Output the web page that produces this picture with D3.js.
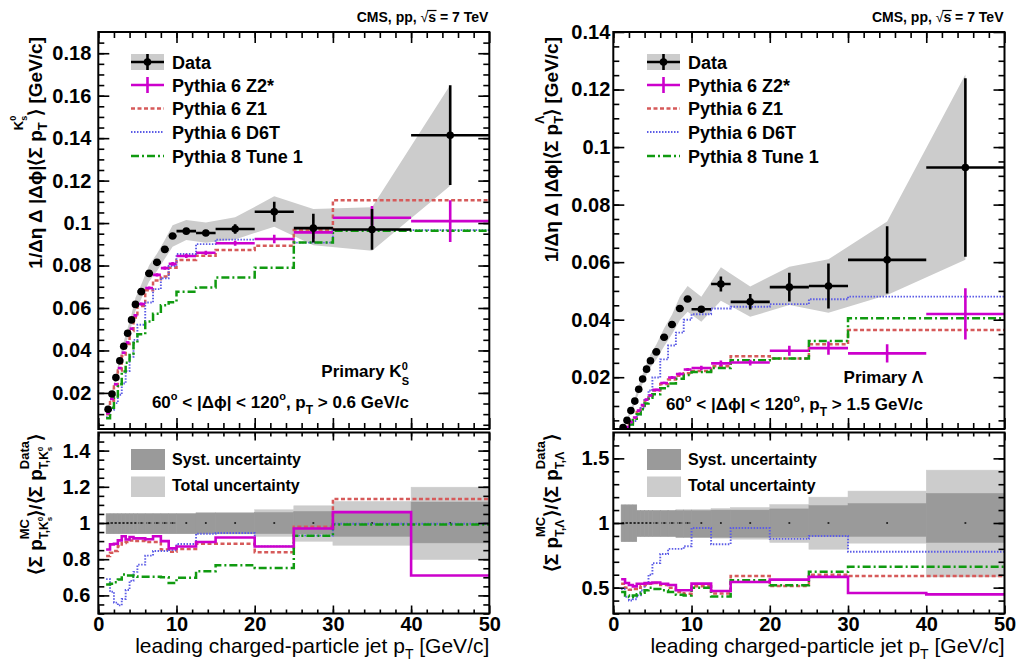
<!DOCTYPE html>
<html><head><meta charset="utf-8">
<script src="https://cdn.jsdelivr.net/npm/d3@7"></script>
<style>
body{margin:0;background:#fff}
svg{display:block}
text{font-family:"Liberation Sans",Arial,Helvetica,sans-serif;white-space:pre}
</style>
</head><body>
<svg id="c" width="1019" height="664"></svg>
<script>
// ---------------- DATA ----------------
const binEdges = [1,1.5,2,2.5,3,3.5,4,4.5,5,6,7,8,9,10,12.5,15,20,25,30,40,50];

// K0S panel (left)
const kData    = [0.0123,0.0195,0.0272,0.0351,0.0420,0.0481,0.0544,0.0617,0.0677,0.0763,0.0815,0.0876,0.0939,0.0962,0.0953,0.0972,0.1053,0.0976,0.0970,0.1414];
const kDataErr = [0.0002,0.0002,0.0003,0.0003,0.0003,0.0003,0.0004,0.0004,0.0004,0.0005,0.0005,0.0005,0.0006,0.0008,0.0008,0.0022,0.0047,0.0068,0.0096,0.0235];
const kBandLo  = [0.0113,0.0183,0.0257,0.0333,0.0399,0.0457,0.0517,0.0586,0.0643,0.0725,0.0774,0.0832,0.0888,0.0920,0.0907,0.0923,0.0983,0.0896,0.0870,0.1176];
const kBandHi  = [0.0133,0.0207,0.0287,0.0369,0.0441,0.0505,0.0571,0.0648,0.0711,0.0801,0.0856,0.0920,0.0990,0.1014,0.1003,0.1027,0.1126,0.1066,0.1074,0.1650];
const kZ2      = [0.0105,0.0172,0.0241,0.0317,0.0389,0.0437,0.0502,0.0565,0.0619,0.0694,0.0756,0.0788,0.0808,0.0845,0.0860,0.0905,0.0925,0.0956,0.1025,0.1009];
const kZ2Err   = [0.0004,0.0004,0.0005,0.0005,0.0005,0.0006,0.0006,0.0006,0.0007,0.0007,0.0008,0.0008,0.0009,0.0010,0.0010,0.0012,0.0020,0.0030,0.0055,0.0098];
const kZ1      = [0.0100,0.0163,0.0230,0.0306,0.0374,0.0430,0.0492,0.0555,0.0609,0.0683,0.0729,0.0748,0.0790,0.0826,0.0846,0.0873,0.0893,0.0967,0.1108,0.1108];
const kD6T     = [0.0085,0.0121,0.0152,0.0191,0.0244,0.0303,0.0370,0.0450,0.0521,0.0626,0.0689,0.0740,0.0798,0.0854,0.0901,0.0922,0.0925,0.0908,0.0967,0.0967];
const kP8      = [0.0081,0.0130,0.0183,0.0241,0.0301,0.0342,0.0386,0.0435,0.0476,0.0536,0.0573,0.0613,0.0627,0.0677,0.0697,0.0744,0.0790,0.0908,0.0964,0.0964];
const kRZ2     = [0.854,0.882,0.885,0.904,0.927,0.909,0.923,0.915,0.915,0.910,0.927,0.900,0.860,0.870,0.895,0.920,0.870,0.970,1.060,0.710];
const kRZ1     = [0.817,0.835,0.845,0.872,0.890,0.895,0.904,0.900,0.900,0.895,0.895,0.854,0.841,0.856,0.885,0.885,0.839,0.979,1.133,1.133];
const kRD6T    = [0.690,0.620,0.560,0.545,0.580,0.630,0.680,0.730,0.770,0.820,0.845,0.845,0.850,0.884,0.941,0.945,0.871,0.930,0.996,0.996];
const kRP8     = [0.660,0.665,0.673,0.688,0.716,0.710,0.710,0.705,0.703,0.703,0.703,0.700,0.668,0.697,0.734,0.767,0.752,0.930,0.992,0.992];
const kSystLo  = [0.941,0.941,0.941,0.941,0.941,0.941,0.941,0.941,0.941,0.941,0.941,0.941,0.941,0.941,0.941,0.941,0.941,0.939,0.926,0.890];
const kSystHi  = [1.051,1.051,1.051,1.051,1.051,1.051,1.051,1.051,1.051,1.051,1.051,1.051,1.051,1.051,1.055,1.055,1.058,1.064,1.064,1.116];
const kTotLo   = [0.941,0.941,0.941,0.941,0.941,0.941,0.941,0.941,0.941,0.941,0.941,0.941,0.941,0.941,0.940,0.940,0.926,0.899,0.877,0.798];
const kTotHi   = [1.051,1.051,1.051,1.051,1.051,1.051,1.051,1.051,1.051,1.051,1.051,1.051,1.051,1.051,1.058,1.058,1.073,1.095,1.119,1.198];

// Lambda panel (right)
const lData    = [0.0025,0.0050,0.0084,0.0117,0.0158,0.0194,0.0228,0.0257,0.0288,0.0339,0.0383,0.0439,0.0472,0.0436,0.0524,0.0462,0.0513,0.0517,0.0608,0.0929];
const lDataErr = [0.0001,0.0001,0.0002,0.0002,0.0002,0.0003,0.0003,0.0003,0.0004,0.0004,0.0005,0.0005,0.0006,0.0010,0.0026,0.0027,0.0050,0.0078,0.0117,0.0310];
const lBandLo  = [0.0021,0.0045,0.0076,0.0106,0.0144,0.0177,0.0208,0.0234,0.0262,0.0308,0.0349,0.0398,0.0428,0.0393,0.0466,0.0410,0.0451,0.0424,0.0486,0.0608];
const lBandHi  = [0.0029,0.0055,0.0092,0.0128,0.0172,0.0211,0.0248,0.0280,0.0314,0.0370,0.0417,0.0480,0.0517,0.0480,0.0582,0.0515,0.0584,0.0610,0.0741,0.1252];
const lZ2      = [0.0014,0.0027,0.0044,0.0060,0.0084,0.0103,0.0122,0.0137,0.0156,0.0180,0.0199,0.0211,0.0227,0.0232,0.0248,0.0251,0.0292,0.0301,0.0283,0.0420];
const lZ2Err   = [0.0002,0.0002,0.0002,0.0003,0.0003,0.0003,0.0003,0.0004,0.0004,0.0004,0.0005,0.0005,0.0005,0.0008,0.0010,0.0010,0.0017,0.0023,0.0032,0.0089];
const lZ1      = [0.0013,0.0025,0.0041,0.0057,0.0079,0.0100,0.0119,0.0136,0.0154,0.0176,0.0192,0.0205,0.0214,0.0222,0.0238,0.0273,0.0265,0.0315,0.0364,0.0364];
const lD6T     = [0.0012,0.0022,0.0034,0.0048,0.0070,0.0093,0.0121,0.0154,0.0199,0.0262,0.0310,0.0355,0.0400,0.0419,0.0439,0.0445,0.0454,0.0471,0.0480,0.0480];
const lP8      = [0.0012,0.0022,0.0036,0.0051,0.0071,0.0089,0.0109,0.0129,0.0141,0.0162,0.0178,0.0195,0.0208,0.0218,0.0232,0.0259,0.0265,0.0326,0.0405,0.0405];
const lRZ2     = [0.565,0.536,0.520,0.510,0.530,0.530,0.535,0.535,0.540,0.530,0.520,0.480,0.480,0.531,0.474,0.544,0.562,0.583,0.458,0.448];
const lRZ1     = [0.531,0.500,0.484,0.490,0.500,0.515,0.520,0.530,0.536,0.520,0.500,0.466,0.453,0.510,0.455,0.590,0.513,0.600,0.590,0.590];
const lRD6T    = [0.490,0.430,0.400,0.410,0.440,0.480,0.530,0.600,0.690,0.760,0.800,0.800,0.820,0.961,0.836,0.961,0.877,0.900,0.778,0.778];
const lRP8     = [0.466,0.440,0.427,0.440,0.448,0.460,0.479,0.500,0.490,0.479,0.466,0.445,0.440,0.500,0.432,0.557,0.518,0.622,0.661,0.661];
const lSystLo  = [0.856,0.856,0.856,0.856,0.896,0.896,0.896,0.896,0.896,0.896,0.896,0.890,0.890,0.890,0.890,0.890,0.890,0.896,0.896,0.849];
const lSystHi  = [1.140,1.140,1.140,1.140,1.096,1.096,1.096,1.096,1.096,1.096,1.096,1.096,1.096,1.096,1.100,1.100,1.109,1.135,1.151,1.229];
const lTotLo   = [0.856,0.856,0.856,0.856,0.896,0.896,0.896,0.896,0.896,0.896,0.896,0.890,0.890,0.890,0.883,0.875,0.849,0.797,0.844,0.583];
const lTotHi   = [1.140,1.140,1.140,1.140,1.096,1.096,1.096,1.096,1.096,1.096,1.096,1.104,1.104,1.104,1.112,1.120,1.143,1.200,1.247,1.409];

// tick labels
const xTickVals   = [0,10,20,30,40,50];
const xTickLabels = ["0","10","20","30","40","50"];
const kTopTickVals   = [0.02,0.04,0.06,0.08,0.10,0.12,0.14,0.16,0.18];
const kTopTickLabels = ["0.02","0.04","0.06","0.08","0.1","0.12","0.14","0.16","0.18"];
const lTopTickVals   = [0.02,0.04,0.06,0.08,0.10,0.12,0.14];
const lTopTickLabels = ["0.02","0.04","0.06","0.08","0.1","0.12","0.14"];
const kBotTickVals   = [0.6,0.8,1.0,1.2,1.4];
const kBotTickLabels = ["0.6","0.8","1","1.2","1.4"];
const lBotTickVals   = [0.5,1.0,1.5];
const lBotTickLabels = ["0.5","1","1.5"];
const legendLabels = ["Data","Pythia 6 Z2*","Pythia 6 Z1","Pythia 6 D6T","Pythia 8 Tune 1"];
const ratioLegendLabels = ["Syst. uncertainty","Total uncertainty"];

// ---------------- STYLE / LAYOUT ----------------
const TOP_Y0 = 32, TOP_Y1 = 429, BOT_Y0 = 432.5, BOT_Y1 = 613.5;
const PHI = '\u03D5';
const C = {z2:'#cc00cc', z1:'#d65a5a', d6t:'#5c5ce6', p8:'#109a10', band:'#cccccc', syst:'#9a9a9a'};
const ST = {
  z1:{stroke:C.z1, w:2.5, dash:'4,2.5'},
  d6t:{stroke:C.d6t, w:1.9, dash:'1.5,1.5'},
  p8:{stroke:C.p8, w:2.5, dash:'8,3,2,3'},
  z2:{stroke:C.z2, w:2.6, dash:null}
};

const svg = d3.select('#c');
const defs = svg.append('defs');

function rich(parent, transform, pieces, anchor) {
  const g = parent.append('g').attr('transform', transform);
  const inner = g.append('g');
  let cursor = 0; const marks = {}; const items = [];
  pieces.forEach(p => {
    const x = (p.at !== undefined) ? marks[p.at] : cursor;
    if (p.mark) marks[p.mark] = x;
    const t = inner.append('text').attr('x', x).attr('y', p.dy || 0)
      .attr('font-size', p.fs).attr('font-weight', p.w || 'bold')
      .attr('fill', '#000').text(p.t);
    const w = t.node().getComputedTextLength();
    items.push({x, w, p});
    cursor = Math.max(cursor, x + w);
  });
  let off = 0;
  if (anchor === 'end') off = -cursor; else if (anchor === 'middle') off = -cursor / 2;
  inner.attr('transform', `translate(${off},0)`);
  return {inner, items};
}

function stepPath(x, y, vals) {
  let d = '';
  vals.forEach((v, i) => {
    const xa = x(binEdges[i]), xb = x(binEdges[i + 1]), yy = y(v);
    d += (i === 0 ? `M${xa},${yy}` : `V${yy}`) + `H${xb}`;
  });
  return d;
}
function styled(sel, s) {
  sel.attr('fill', 'none').attr('stroke', s.stroke).attr('stroke-width', s.w);
  if (s.dash) sel.attr('stroke-dasharray', s.dash);
  return sel;
}

function axes(g, x, y, y0, y1, yMaj, yLab, yMin, xMin, opts) {
  const x0 = x.range()[0], x1 = x.range()[1];
  const aL = g.append('g').attr('transform', `translate(${x0},0)`)
    .call(d3.axisLeft(y).tickValues(yMaj).tickSize(-opts.yMaj).tickPadding(opts.yPad).tickFormat((d, i) => yLab[i]));
  aL.select('.domain').remove();
  aL.selectAll('text').attr('font-size', 20).attr('font-weight', 'bold').attr('fill', '#000')
    .style('font-family', '"Liberation Sans",Arial,sans-serif');
  const aLm = g.append('g').attr('transform', `translate(${x0},0)`)
    .call(d3.axisLeft(y).tickValues(yMin).tickSize(-opts.yMin).tickFormat(''));
  aLm.select('.domain').remove();
  const aR = g.append('g').attr('transform', `translate(${x1},0)`)
    .call(d3.axisRight(y).tickValues(yMaj).tickSize(-opts.yMaj).tickFormat(''));
  aR.select('.domain').remove();
  const aRm = g.append('g').attr('transform', `translate(${x1},0)`)
    .call(d3.axisRight(y).tickValues(yMin).tickSize(-opts.yMin).tickFormat(''));
  aRm.select('.domain').remove();
  const aB = g.append('g').attr('transform', `translate(0,${y1})`)
    .call(d3.axisBottom(x).tickValues(xTickVals).tickSize(-opts.xMaj).tickPadding(3)
      .tickFormat((d, i) => opts.xLabels ? xTickLabels[i] : ''));
  aB.select('.domain').remove();
  aB.selectAll('text').attr('font-size', 20).attr('font-weight', 'bold').attr('fill', '#000')
    .style('font-family', '"Liberation Sans",Arial,sans-serif');
  const aBm = g.append('g').attr('transform', `translate(0,${y1})`)
    .call(d3.axisBottom(x).tickValues(xMin).tickSize(-opts.xMin).tickFormat(''));
  aBm.select('.domain').remove();
  const aT = g.append('g').attr('transform', `translate(0,${y0})`)
    .call(d3.axisTop(x).tickValues(xTickVals).tickSize(-opts.xMaj).tickFormat(''));
  aT.select('.domain').remove();
  const aTm = g.append('g').attr('transform', `translate(0,${y0})`)
    .call(d3.axisTop(x).tickValues(xMin).tickSize(-opts.xMin).tickFormat(''));
  aTm.select('.domain').remove();
  g.selectAll('.tick line').attr('stroke', '#000').attr('stroke-width', 1.6);
  g.append('rect').attr('x', x0).attr('y', y0).attr('width', x1 - x0).attr('height', y1 - y0)
    .attr('fill', 'none').attr('stroke', '#000').attr('stroke-width', 2);
}

function drawPanel(P) {
  const x = d3.scaleLinear().domain([0, 50]).range([P.x0, P.x1]);
  const yT = d3.scaleLinear().domain(P.topDomain).range([TOP_Y1, TOP_Y0]);
  const yB = d3.scaleLinear().domain(P.botDomain).range([BOT_Y1, BOT_Y0]);
  const centers = binEdges.slice(0, -1).map((e, i) => (e + binEdges[i + 1]) / 2);
  const lo = binEdges.slice(0, -1), hi = binEdges.slice(1);

  defs.append('clipPath').attr('id', 'ct' + P.id).append('rect')
    .attr('x', P.x0).attr('y', TOP_Y0).attr('width', P.x1 - P.x0).attr('height', TOP_Y1 - TOP_Y0);
  defs.append('clipPath').attr('id', 'cb' + P.id).append('rect')
    .attr('x', P.x0).attr('y', BOT_Y0).attr('width', P.x1 - P.x0).attr('height', BOT_Y1 - BOT_Y0);

  // ---- TOP ----
  const gt = svg.append('g').attr('clip-path', `url(#ct${P.id})`);
  gt.append('path').datum(centers.map((c, i) => [c, P.bandLo[i], P.bandHi[i]]))
    .attr('d', d3.area().x(d => x(d[0])).y0(d => yT(d[1])).y1(d => yT(d[2])))
    .attr('fill', C.band);
  styled(gt.append('path').attr('d', stepPath(x, yT, P.z1)), ST.z1);
  styled(gt.append('path').attr('d', stepPath(x, yT, P.d6t)), ST.d6t);
  styled(gt.append('path').attr('d', stepPath(x, yT, P.p8)), ST.p8);
  const gz = gt.append('g').attr('stroke', C.z2).attr('stroke-width', 2.6);
  P.z2.forEach((v, i) => {
    gz.append('line').attr('x1', x(lo[i])).attr('x2', x(hi[i])).attr('y1', yT(v)).attr('y2', yT(v));
    gz.append('line').attr('x1', x(centers[i])).attr('x2', x(centers[i]))
      .attr('y1', yT(v - P.z2Err[i])).attr('y2', yT(v + P.z2Err[i]));
  });
  const gd = gt.append('g');
  P.data.forEach((v, i) => {
    gd.append('line').attr('x1', x(lo[i])).attr('x2', x(hi[i])).attr('y1', yT(v)).attr('y2', yT(v))
      .attr('stroke', '#000').attr('stroke-width', 2.6);
    gd.append('line').attr('x1', x(centers[i])).attr('x2', x(centers[i]))
      .attr('y1', yT(v - P.dataErr[i])).attr('y2', yT(v + P.dataErr[i]))
      .attr('stroke', '#000').attr('stroke-width', 2.6);
    gd.append('circle').attr('cx', x(centers[i])).attr('cy', yT(v)).attr('r', 3.8).attr('fill', '#000');
  });

  // ---- BOTTOM ----
  const gb = svg.append('g').attr('clip-path', `url(#cb${P.id})`);
  lo.forEach((e, i) => {
    gb.append('rect').attr('x', x(e)).attr('width', x(hi[i]) - x(e))
      .attr('y', yB(P.totHi[i])).attr('height', yB(P.totLo[i]) - yB(P.totHi[i])).attr('fill', C.band)
      .attr('stroke', C.band).attr('stroke-width', 0.5);
  });
  lo.forEach((e, i) => {
    gb.append('rect').attr('x', x(e)).attr('width', x(hi[i]) - x(e))
      .attr('y', yB(P.systHi[i])).attr('height', yB(P.systLo[i]) - yB(P.systHi[i])).attr('fill', C.syst)
      .attr('stroke', C.syst).attr('stroke-width', 0.5);
  });
  gb.append('line').attr('x1', x(binEdges[0])).attr('x2', x(10)).attr('y1', yB(1)).attr('y2', yB(1))
    .attr('stroke', '#222').attr('stroke-width', 1.2).attr('stroke-dasharray', '1.2,2.8');
  centers.forEach(c => gb.append('rect').attr('x', x(c) - 0.9).attr('y', yB(1) - 0.9)
    .attr('width', 1.8).attr('height', 1.8).attr('fill', '#222'));
  styled(gb.append('path').attr('d', stepPath(x, yB, P.rz1)), ST.z1);
  styled(gb.append('path').attr('d', stepPath(x, yB, P.rd6t)), ST.d6t);
  styled(gb.append('path').attr('d', stepPath(x, yB, P.rp8)), ST.p8);
  styled(gb.append('path').attr('d', stepPath(x, yB, P.rz2)), ST.z2);

  const ga = svg.append('g');
  axes(ga, x, yT, TOP_Y0, TOP_Y1, P.topTicks, P.topLabels, P.topMinor, d3.range(0, 50, 2),
    {yMaj: 11, yMin: 6, xMaj: 11, xMin: 6, yPad: P.yPad, xLabels: false});
  axes(ga, x, yB, BOT_Y0, BOT_Y1, P.botTicks, P.botLabels, P.botMinor, d3.range(0, 50, 2),
    {yMaj: 11, yMin: 6, xMaj: 8, xMin: 4, yPad: P.yPad + 1, xLabels: true});

  // ---- legends ----
  const lg = svg.append('g');
  const sx0 = P.legX, sx1 = P.legX + 33, tx = P.legX + 41;
  const rows = [62, 85, 108.5, 132, 156];
  lg.append('rect').attr('x', sx0).attr('y', rows[0] - 8).attr('width', sx1 - sx0).attr('height', 16).attr('fill', C.band);
  lg.append('line').attr('x1', sx0).attr('x2', sx1).attr('y1', rows[0]).attr('y2', rows[0]).attr('stroke', '#000').attr('stroke-width', 2.6);
  lg.append('line').attr('x1', (sx0 + sx1) / 2).attr('x2', (sx0 + sx1) / 2).attr('y1', rows[0] - 8).attr('y2', rows[0] + 8).attr('stroke', '#000').attr('stroke-width', 2.6);
  lg.append('circle').attr('cx', (sx0 + sx1) / 2).attr('cy', rows[0]).attr('r', 3.8).attr('fill', '#000');
  lg.append('line').attr('x1', sx0).attr('x2', sx1).attr('y1', rows[1]).attr('y2', rows[1]).attr('stroke', C.z2).attr('stroke-width', 2.6);
  lg.append('line').attr('x1', (sx0 + sx1) / 2).attr('x2', (sx0 + sx1) / 2).attr('y1', rows[1] - 8).attr('y2', rows[1] + 8).attr('stroke', C.z2).attr('stroke-width', 2.6);
  styled(lg.append('line').attr('x1', sx0).attr('x2', sx1).attr('y1', rows[2]).attr('y2', rows[2]), ST.z1);
  styled(lg.append('line').attr('x1', sx0).attr('x2', sx1).attr('y1', rows[3]).attr('y2', rows[3]), ST.d6t);
  styled(lg.append('line').attr('x1', sx0).attr('x2', sx1).attr('y1', rows[4]).attr('y2', rows[4]), ST.p8);
  legendLabels.forEach((t, i) => lg.append('text').attr('x', tx).attr('y', rows[i] + 6.5)
    .attr('font-size', 18).attr('font-weight', 'bold').text(t));
  lg.append('rect').attr('x', sx0).attr('y', 449).attr('width', 34).attr('height', 21).attr('fill', C.syst);
  lg.append('rect').attr('x', sx0).attr('y', 476.5).attr('width', 34).attr('height', 20.5).attr('fill', C.band);
  ratioLegendLabels.forEach((t, i) => lg.append('text').attr('x', tx).attr('y', 465 + i * 26)
    .attr('font-size', 16).attr('font-weight', 'bold').text(t));

  // x-axis title
  rich(svg, `translate(${P.x1},653)`, [
    {t: 'leading charged-particle jet p', fs: 21, w: 'normal'},
    {t: 'T', fs: 14, w: 'normal', dy: 6},
    {t: ' [GeV/c]', fs: 21, w: 'normal'}
  ], 'end');

  // CMS label
  const cms = rich(svg, `translate(${P.x1 - 1},22)`, [
    {t: 'CMS, pp, ', fs: 14},
    {t: '\u221A', fs: 14, w: 'normal'},
    {t: 's', fs: 14, over: true},
    {t: ' = 7 TeV', fs: 14}
  ], 'end');
  cms.items.filter(d => d.p.over).forEach(d => cms.inner.append('line')
    .attr('x1', d.x - 1).attr('x2', d.x + d.w + 0.5).attr('y1', -11.5).attr('y2', -11.5)
    .attr('stroke', '#000').attr('stroke-width', 1.2));

  // annotations
  rich(svg, `translate(${P.annX},${P.annY1})`, P.annPrimary, 'end');
  rich(svg, `translate(${P.annX},${P.annY2})`, [
    {t: '60', fs: 17}, {t: 'o', fs: 11, dy: -8},
    {t: ' < |\u0394' + PHI + '| < 120', fs: 17}, {t: 'o', fs: 11, dy: -8},
    {t: ', p', fs: 17}, {t: 'T', fs: 12, dy: 6},
    {t: P.annCut, fs: 17}
  ], 'end');

  // y titles
  rich(svg, `translate(${P.ytX},37) rotate(-90)`, P.yTitleTop, 'end');
  rich(svg, `translate(${P.ytX},434) rotate(-90)`, P.yTitleBot, 'end');
}

drawPanel({
  id: 'k', x0: 98.3, x1: 489.3, topDomain: [0.003, 0.19], botDomain: [0.5, 1.5],
  data: kData, dataErr: kDataErr, bandLo: kBandLo, bandHi: kBandHi,
  z2: kZ2, z2Err: kZ2Err, z1: kZ1, d6t: kD6T, p8: kP8,
  rz2: kRZ2, rz1: kRZ1, rd6t: kRD6T, rp8: kRP8,
  systLo: kSystLo, systHi: kSystHi, totLo: kTotLo, totHi: kTotHi,
  topTicks: kTopTickVals, topLabels: kTopTickLabels, topMinor: d3.range(0.005, 0.19, 0.005),
  botTicks: kBotTickVals, botLabels: kBotTickLabels, botMinor: d3.range(0.5, 1.5, 0.05),
  yPad: 7, legX: 131,
  annX: 409, annY1: 377, annY2: 408, annCut: ' > 0.6 GeV/c',
  annPrimary: [{t: 'Primary K', fs: 17}, {t: 'S', fs: 11, dy: 8, mark: 'a'}, {t: '0', fs: 11, dy: -7, at: 'a'}],
  ytX: 42,
  yTitleTop: [
    {t: '1/\u0394\u03B7 \u0394 |\u0394' + PHI + '|\u27E8\u03A3 p', fs: 19},
    {t: 'T', fs: 13, dy: 5, mark: 'a'},
    {t: 'K', fs: 13, dy: -19, at: 'a'},
    {t: 's', fs: 9, dy: -15, mark: 'b'},
    {t: '0', fs: 9, dy: -26, at: 'b'},
    {t: '\u27E9 [GeV/c]', fs: 19}
  ],
  yTitleBot: [
    {t: '\u27E8\u03A3 p', fs: 19},
    {t: 'T,K', fs: 12, dy: 6, mark: 'a'},
    {t: 's', fs: 8, dy: 10, mark: 'b'},
    {t: '0', fs: 8, dy: 1, at: 'b'},
    {t: 'MC', fs: 13, dy: -13, at: 'a'},
    {t: '\u27E9/\u27E8\u03A3 p', fs: 19},
    {t: 'T,K', fs: 12, dy: 6, mark: 'c'},
    {t: 's', fs: 8, dy: 10, mark: 'd'},
    {t: '0', fs: 8, dy: 1, at: 'd'},
    {t: 'Data', fs: 13, dy: -13, at: 'c'},
    {t: '\u27E9', fs: 19}
  ]
});

drawPanel({
  id: 'l', x0: 613.3, x1: 1004.5, topDomain: [0.002, 0.14], botDomain: [0.3, 1.7],
  data: lData, dataErr: lDataErr, bandLo: lBandLo, bandHi: lBandHi,
  z2: lZ2, z2Err: lZ2Err, z1: lZ1, d6t: lD6T, p8: lP8,
  rz2: lRZ2, rz1: lRZ1, rd6t: lRD6T, rp8: lRP8,
  systLo: lSystLo, systHi: lSystHi, totLo: lTotLo, totHi: lTotHi,
  topTicks: lTopTickVals, topLabels: lTopTickLabels, topMinor: d3.range(0.005, 0.14, 0.005),
  botTicks: lBotTickVals, botLabels: lBotTickLabels, botMinor: d3.range(0.3, 1.7, 0.1),
  yPad: 3, legX: 647,
  annX: 923, annY1: 383, annY2: 410, annCut: ' > 1.5 GeV/c',
  annPrimary: [{t: 'Primary \u039B', fs: 17}],
  ytX: 558,
  yTitleTop: [
    {t: '1/\u0394\u03B7 \u0394 |\u0394' + PHI + '|\u27E8\u03A3 p', fs: 19},
    {t: 'T', fs: 13, dy: 5, mark: 'a'},
    {t: '\u039B', fs: 12, dy: -14, at: 'a'},
    {t: '\u27E9 [GeV/c]', fs: 19}
  ],
  yTitleBot: [
    {t: '\u27E8\u03A3 p', fs: 19},
    {t: 'T,\u039B', fs: 12, dy: 6, mark: 'a'},
    {t: 'MC', fs: 13, dy: -13, at: 'a'},
    {t: '\u27E9/\u27E8\u03A3 p', fs: 19},
    {t: 'T,\u039B', fs: 12, dy: 6, mark: 'c'},
    {t: 'Data', fs: 13, dy: -13, at: 'c'},
    {t: '\u27E9', fs: 19}
  ]
});
</script>
</body></html>
